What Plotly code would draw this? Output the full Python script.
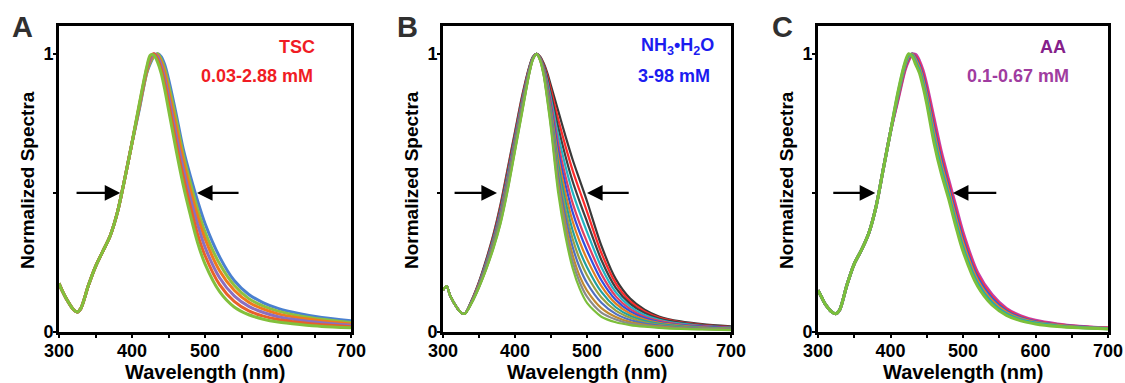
import plotly.graph_objects as go

# ---------------- data ----------------
wavelength = [300, 305, 310, 320, 325, 330, 340, 350, 360, 370, 380, 390, 400, 410,
              420, 425, 430, 435, 440, 445, 450, 460, 470, 480, 490, 500, 520, 540,
              560, 580, 600, 630, 660, 700]

x_ticks = [300, 400, 500, 600, 700]
x_tick_labels = ["300", "400", "500", "600", "700"]
y_ticks = [0, 0.5, 1]
y_tick_labels = ["0", "", "1"]

# Panel A: TSC 0.03-2.88 mM (broad -> narrow)
A_left = [0.175, 0.145, 0.12, 0.08, 0.072, 0.085, 0.165, 0.235, 0.29, 0.345, 0.43, 0.55, 0.68]
A6 = A_left + [0.80, 0.93, 0.965, 0.99, 1.0, 0.99, 0.96, 0.91, 0.79, 0.66, 0.56, 0.47, 0.39, 0.27, 0.185, 0.135, 0.105, 0.085, 0.066, 0.052, 0.04]
A5 = A_left + [0.805, 0.93, 0.97, 0.99, 1.0, 0.98, 0.945, 0.89, 0.77, 0.64, 0.535, 0.44, 0.36, 0.245, 0.168, 0.12, 0.093, 0.075, 0.058, 0.046, 0.034]
A4 = A_left + [0.81, 0.935, 0.975, 0.995, 0.995, 0.97, 0.93, 0.87, 0.745, 0.62, 0.51, 0.415, 0.335, 0.22, 0.15, 0.107, 0.082, 0.065, 0.05, 0.04, 0.029]
A3 = A_left + [0.81, 0.94, 0.98, 1.0, 0.99, 0.96, 0.91, 0.85, 0.715, 0.59, 0.48, 0.385, 0.305, 0.195, 0.13, 0.092, 0.07, 0.055, 0.042, 0.033, 0.024]
A2 = A_left + [0.815, 0.945, 0.99, 1.0, 0.98, 0.945, 0.89, 0.825, 0.685, 0.56, 0.45, 0.35, 0.275, 0.17, 0.11, 0.076, 0.057, 0.045, 0.034, 0.026, 0.019]
A1 = A_left + [0.82, 0.95, 0.995, 0.995, 0.97, 0.93, 0.87, 0.80, 0.66, 0.53, 0.42, 0.32, 0.245, 0.145, 0.09, 0.062, 0.046, 0.036, 0.027, 0.02, 0.015]
A_curves = [A6, A5, A4, A3, A2, A1]
A_colors = ["#4a80d0", "#8cc040", "#f07a1c", "#8a6fc0", "#e8602a", "#82c03c"]

# Panel B: NH3·H2O 3-98 mM (broad -> narrow)
B_left = [0.15, 0.165, 0.13, 0.085, 0.07, 0.065]
B7 = B_left + [0.115, 0.18, 0.26, 0.35, 0.46, 0.59, 0.72, 0.85, 0.955, 0.99, 1.0, 0.99, 0.965, 0.93, 0.885, 0.795, 0.705, 0.62, 0.545, 0.47, 0.31, 0.19, 0.12, 0.08, 0.056, 0.038, 0.028, 0.02]
B6b = B_left + [0.114, 0.178, 0.256, 0.345, 0.453, 0.582, 0.713, 0.844, 0.952, 0.989, 1.0, 0.988, 0.96, 0.92, 0.87, 0.765, 0.669, 0.581, 0.506, 0.433, 0.284, 0.175, 0.11, 0.074, 0.052, 0.035, 0.026, 0.018]
B6 = B_left + [0.113, 0.176, 0.253, 0.34, 0.446, 0.574, 0.706, 0.838, 0.95, 0.988, 1.0, 0.987, 0.956, 0.91, 0.854, 0.736, 0.633, 0.542, 0.467, 0.397, 0.259, 0.159, 0.101, 0.068, 0.048, 0.033, 0.024, 0.017]
B5b = B_left + [0.112, 0.174, 0.25, 0.335, 0.439, 0.566, 0.699, 0.832, 0.948, 0.987, 1.0, 0.985, 0.951, 0.9, 0.838, 0.706, 0.597, 0.503, 0.428, 0.36, 0.233, 0.143, 0.091, 0.061, 0.044, 0.03, 0.022, 0.016]
B5 = B_left + [0.111, 0.172, 0.246, 0.33, 0.432, 0.558, 0.692, 0.826, 0.945, 0.986, 1.0, 0.984, 0.947, 0.89, 0.823, 0.677, 0.561, 0.464, 0.389, 0.324, 0.208, 0.128, 0.082, 0.055, 0.04, 0.027, 0.021, 0.015]
B4b = B_left + [0.11, 0.17, 0.243, 0.326, 0.426, 0.551, 0.686, 0.821, 0.943, 0.985, 1.0, 0.982, 0.943, 0.881, 0.81, 0.652, 0.53, 0.431, 0.356, 0.293, 0.186, 0.115, 0.074, 0.05, 0.036, 0.025, 0.019, 0.014]
B4 = B_left + [0.109, 0.169, 0.24, 0.322, 0.42, 0.544, 0.68, 0.816, 0.941, 0.984, 1.0, 0.981, 0.939, 0.873, 0.797, 0.627, 0.5, 0.398, 0.323, 0.262, 0.165, 0.102, 0.066, 0.045, 0.033, 0.023, 0.017, 0.013]
B3b = B_left + [0.108, 0.167, 0.237, 0.318, 0.414, 0.538, 0.674, 0.811, 0.939, 0.983, 1.0, 0.98, 0.935, 0.865, 0.784, 0.603, 0.471, 0.366, 0.291, 0.233, 0.144, 0.089, 0.058, 0.04, 0.029, 0.02, 0.015, 0.012]
B3 = B_left + [0.108, 0.165, 0.234, 0.314, 0.409, 0.532, 0.669, 0.806, 0.937, 0.983, 1.0, 0.979, 0.932, 0.857, 0.772, 0.58, 0.442, 0.335, 0.26, 0.204, 0.124, 0.077, 0.051, 0.035, 0.026, 0.018, 0.014, 0.011]
B2b = B_left + [0.107, 0.163, 0.231, 0.31, 0.403, 0.526, 0.663, 0.801, 0.935, 0.982, 1.0, 0.978, 0.928, 0.85, 0.76, 0.558, 0.415, 0.306, 0.23, 0.176, 0.105, 0.065, 0.043, 0.03, 0.023, 0.016, 0.012, 0.01]
B2 = B_left + [0.106, 0.162, 0.229, 0.306, 0.398, 0.52, 0.658, 0.797, 0.933, 0.981, 1.0, 0.977, 0.925, 0.842, 0.749, 0.535, 0.388, 0.277, 0.2, 0.149, 0.086, 0.054, 0.036, 0.026, 0.02, 0.014, 0.011, 0.009]
B1b = B_left + [0.105, 0.161, 0.227, 0.303, 0.394, 0.515, 0.654, 0.794, 0.931, 0.98, 1.0, 0.976, 0.922, 0.836, 0.74, 0.518, 0.366, 0.253, 0.178, 0.127, 0.07, 0.045, 0.03, 0.022, 0.017, 0.012, 0.01, 0.008]
B1 = B_left + [0.105, 0.16, 0.225, 0.30, 0.39, 0.51, 0.65, 0.79, 0.93, 0.98, 1.0, 0.975, 0.92, 0.83, 0.73, 0.50, 0.345, 0.23, 0.155, 0.105, 0.055, 0.035, 0.025, 0.019, 0.015, 0.011, 0.009, 0.007]
B_curves = [B7, B6b, B6, B5b, B5, B4b, B4, B3b, B3, B2b, B2, B1b, B1]
B_colors = ["#3a3a3a", "#ff2a2a", "#404040", "#22b4c4", "#e04060", "#3050e0", "#e08020",
            "#20a0a0", "#9aa040", "#5070c0", "#c08a30", "#8a8a8a", "#7cbf3a"]

# Panel C: AA 0.1-0.67 mM (broad -> narrow)
C_left = [0.15, 0.125, 0.1, 0.07, 0.066, 0.08, 0.17, 0.245, 0.295, 0.355, 0.45, 0.585, 0.72]
C6 = C_left + [0.83, 0.94, 0.975, 0.997, 0.997, 0.975, 0.94, 0.89, 0.77, 0.65, 0.55, 0.455, 0.36, 0.215, 0.135, 0.085, 0.058, 0.042, 0.029, 0.021, 0.015]
C5 = C_left + [0.836, 0.946, 0.98, 0.999, 0.99, 0.966, 0.928, 0.876, 0.752, 0.634, 0.536, 0.44, 0.346, 0.205, 0.127, 0.08, 0.054, 0.039, 0.027, 0.02, 0.014]
C4 = C_left + [0.842, 0.952, 0.985, 1.0, 0.984, 0.957, 0.916, 0.862, 0.734, 0.618, 0.522, 0.425, 0.332, 0.195, 0.12, 0.075, 0.051, 0.037, 0.025, 0.019, 0.013]
C3 = C_left + [0.848, 0.958, 0.99, 0.999, 0.976, 0.948, 0.904, 0.848, 0.716, 0.602, 0.508, 0.41, 0.318, 0.185, 0.112, 0.07, 0.047, 0.034, 0.024, 0.017, 0.013]
C2 = C_left + [0.854, 0.964, 0.995, 0.995, 0.968, 0.939, 0.892, 0.834, 0.698, 0.586, 0.494, 0.395, 0.304, 0.175, 0.105, 0.065, 0.044, 0.032, 0.022, 0.016, 0.012]
C1 = C_left + [0.86, 0.97, 1.0, 0.99, 0.96, 0.93, 0.88, 0.82, 0.68, 0.57, 0.48, 0.38, 0.29, 0.165, 0.097, 0.06, 0.04, 0.029, 0.02, 0.015, 0.011]
C_curves = [C6, C5, C4, C3, C2, C1]
C_colors = ["#c040b0", "#ff3040", "#3060d8", "#f08020", "#20a8b8", "#7cbf3a"]

panel_letters = ["A", "B", "C"]
label_line1 = ["TSC", "NH<sub>3</sub>•H<sub>2</sub>O", "AA"]
label_line2 = ["0.03-2.88 mM", "3-98 mM", "0.1-0.67 mM"]
label_colors1 = ["#f01c24", "#1c1cf0", "#85208a"]
label_colors2 = ["#f01c24", "#1c1cf0", "#a03ca0"]
x_title = "Wavelength (nm)"
y_title = "Normalized Spectra"
# arrows: (left tail, left head, right tail, right head) in nm at y=0.5
arrow_pos = [(322, 384, 548, 489), (314, 375, 560, 500), (319, 379, 548, 486)]

# ---------------- layout geometry (pixels) ----------------
ML, MR, MT, MB = 59, 17, 26, 51
W, H = 1125, 383
PW, PH = W - ML - MR, H - MT - MB


def px_x(p):
    return (p - ML) / PW


def px_y(p):
    return (H - MB - p) / PH


frame_px = [(59, 351), (443, 731), (818, 1108)]
x_domains = [[px_x(a), px_x(b)] for a, b in frame_px]
FONT = "Liberation Sans, Arial, sans-serif"

fig = go.Figure()
panels = [(A_curves, A_colors, 3.0), (B_curves, B_colors, 2.2), (C_curves, C_colors, 3.0)]
for i, (curves, colors, lw) in enumerate(panels):
    xa = "x" if i == 0 else f"x{i+1}"
    ya = "y" if i == 0 else f"y{i+1}"
    for c, col in zip(curves, colors):
        fig.add_trace(go.Scatter(x=wavelength, y=c, mode="lines", xaxis=xa, yaxis=ya,
                                 line=dict(color=col, width=lw, shape="spline", smoothing=0.8),
                                 showlegend=False, hoverinfo="skip"))


def txt(x, y, text, size, color, angle=0):
    return dict(x=px_x(x), y=px_y(y), xref="paper", yref="paper", text=text, showarrow=False,
                xanchor="center", yanchor="middle", textangle=angle,
                font=dict(family=FONT, size=size, color=color))


annotations = []
for i in range(3):
    suffix = "" if i == 0 else str(i + 1)
    axis_font = dict(family=FONT, size=18, color="black")
    fig.layout[f"xaxis{suffix}"] = dict(
        domain=x_domains[i], anchor=f"y{suffix}", range=[300, 700],
        tickvals=x_ticks, ticktext=[f"<b>{t}</b>" for t in x_tick_labels],
        ticks="outside", ticklen=3, tickwidth=2, tickcolor="black", ticklabelstandoff=-3,
        minor=dict(tickvals=[350, 450, 550, 650], ticks="outside", ticklen=3, tickwidth=2, tickcolor="black"),
        showline=True, linewidth=3, linecolor="black", mirror=True,
        showgrid=False, zeroline=False, tickfont=axis_font, automargin=False,
    )
    fig.layout[f"yaxis{suffix}"] = dict(
        domain=[0, 1], anchor=f"x{suffix}", range=[0, 1.1],
        tickvals=y_ticks, ticktext=[f"<b>{t}</b>" if t else "" for t in y_tick_labels],
        ticks="outside", ticklen=3, tickwidth=2, tickcolor="black", ticklabelstandoff=-4,
        showline=True, linewidth=3, linecolor="black", mirror=True,
        showgrid=False, zeroline=False, tickfont=axis_font, automargin=False,
    )
    xr = "x" + suffix
    yr = "y" + suffix
    lt, lh, rt, rh = arrow_pos[i]
    for tail, head in [(lt, lh), (rt, rh)]:
        annotations.append(dict(x=head, y=0.5, ax=tail, ay=0.5, xref=xr, yref=yr, axref=xr, ayref=yr,
                                showarrow=True, arrowhead=2, arrowsize=1.3, arrowwidth=2.4,
                                arrowcolor="black", text=""))
    left, right = frame_px[i]
    # axis titles
    annotations.append(txt((left + right) / 2, 372, f"<b>{x_title}</b>", 20, "black"))
    annotations.append(txt(left - 32, 180, f"<b>{y_title}</b>", 19, "black", angle=-90))
    # panel letter
    annotations.append(txt([22, 407, 782][i], 27, f"<b>{panel_letters[i]}</b>", 29, "#303030"))
    # concentration labels
    annotations.append(txt([297, 677, 1053][i], 47, f"<b>{label_line1[i]}</b>", 18, label_colors1[i]))
    annotations.append(txt([257, 674, 1018][i], 76, f"<b>{label_line2[i]}</b>", 18, label_colors2[i]))

fig.update_layout(width=W, height=H, margin=dict(l=ML, r=MR, t=MT, b=MB, autoexpand=False),
                  paper_bgcolor="white", plot_bgcolor="white", annotations=annotations)
fig.write_html("out.html")
